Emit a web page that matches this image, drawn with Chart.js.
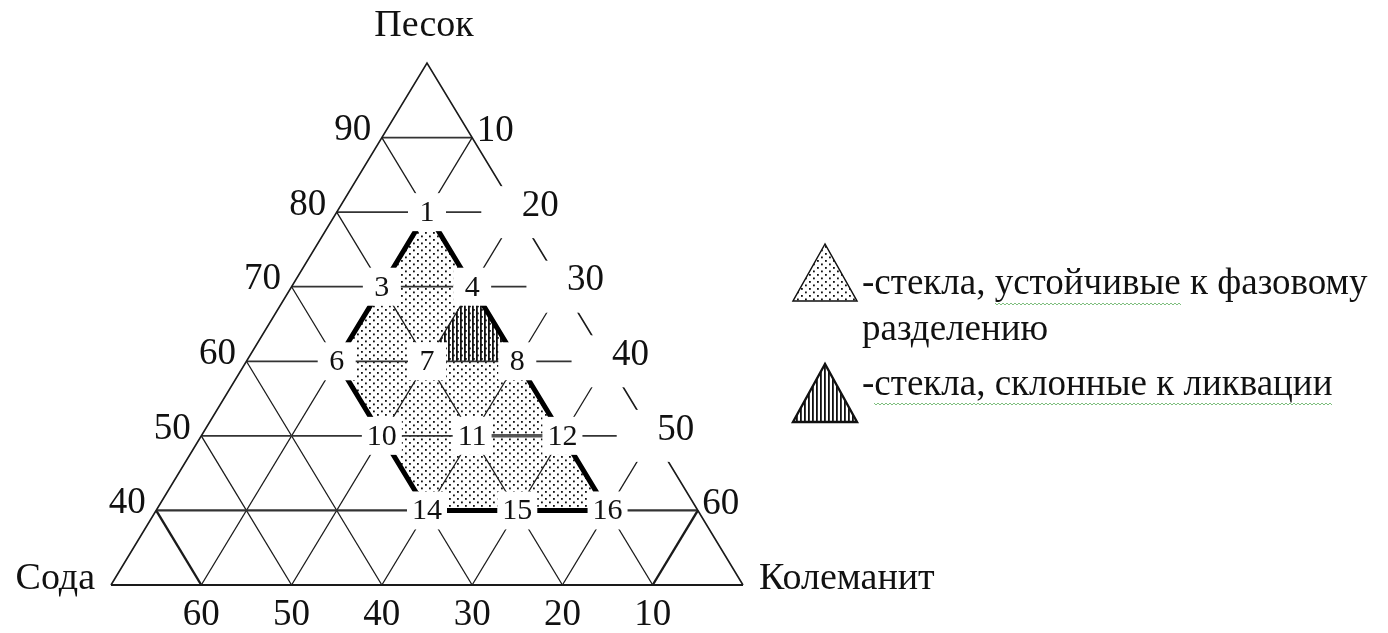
<!DOCTYPE html>
<html lang="ru">
<head>
  <meta charset="UTF-8">
  <title>Треугольник состава: песок — сода — колеманит</title>
  <script src="https://cdn.jsdelivr.net/npm/chart.js"></script>
  <style>
    html, body { margin: 0; padding: 0; background: #fff; }
    #wrap { width: 1388px; height: 633px; }
  </style>
</head>
<body>
  <div id="wrap"><canvas id="diagram" width="1388" height="633"></canvas></div>

  <script>
    // Подписи шкал (мас. %)
    const sandTicks = [90, 80, 70, 60, 50, 40];
    const colemaniteTicks = [10, 20, 30, 40, 50, 60];
    const sodaTicks = [60, 50, 40, 30, 20, 10];

    // Видимая часть треугольника: песок от 30 до 100 %
    const sandMin = 30;
    const gridSteps = [10, 20, 30, 40, 50, 60];
    const sandLevels = [40, 50, 60, 70, 80, 90];

    // Составы стекол: номер, песок, колеманит (сода — остаток)
    const glassIds = ['1', '3', '4', '6', '7', '8', '10', '11', '12', '14', '15', '16'];
    const glassSand = [80, 70, 70, 60, 60, 60, 50, 50, 50, 40, 40, 40];
    const glassColemanite = [10, 10, 20, 10, 20, 30, 20, 30, 40, 30, 40, 50];

    // Области: устойчивые к фазовому разделению и склонные к ликвации
    const stableRegion = ['1', '4', '8', '12', '16', '15', '14', '10', '6', '3'];
    const liquationRegion = ['4', '8', '7'];

    const axisTitles = ['Песок', 'Сода', 'Колеманит'];
    const legendLines = ['-стекла, устойчивые к фазовому', 'разделению', '-стекла, склонные к ликвации'];

    // песок/колеманит -> координаты на плоскости
    const pt = (sand, cole) => ({ x: cole + sand / 2, y: sand });
    const glassPt = id => {
      const i = glassIds.indexOf(id);
      return pt(glassSand[i], glassColemanite[i]);
    };

    function dotPattern() {
      const c = document.createElement('canvas');
      c.width = 8; c.height = 7;
      const g = c.getContext('2d');
      g.fillStyle = '#111';
      g.fillRect(1, 1, 1.8, 1.8);
      g.fillRect(5, 4.5, 1.8, 1.8);
      return g.createPattern(c, 'repeat');
    }
    function hatchPattern() {
      const c = document.createElement('canvas');
      c.width = 4; c.height = 4;
      const g = c.getContext('2d');
      g.fillStyle = '#111';
      g.fillRect(0, 0, 1.8, 4);
      return g.createPattern(c, 'repeat');
    }
    const dots = dotPattern();
    const hatch = hatchPattern();

    const lineSet = (data, width, color, order) => ({
      type: 'line', data, showLine: true, fill: false, borderColor: color,
      borderWidth: width, pointRadius: 0, tension: 0, clip: false, order
    });

    const datasets = [];

    // рамка треугольника
    datasets.push(lineSet([pt(sandMin, 0), pt(100, 0), pt(sandMin, 100 - sandMin)], 1.6, '#1a1a1a', 3));
    datasets.push(lineSet([pt(sandMin, 0), pt(sandMin, 100 - sandMin)], 2.2, '#1a1a1a', 3));
    // горизонтали песка
    sandLevels.forEach(s => datasets.push(lineSet([pt(s, 0), pt(s, 100 - s)], s === 40 ? 2.2 : 1.8, '#333', 3)));
    // линии постоянного колеманита
    gridSteps.forEach(c => datasets.push(lineSet([pt(sandMin, c), pt(100 - c, c)], c === 60 ? 2.4 : 1.3, '#1a1a1a', 3)));
    // линии постоянной соды
    gridSteps.forEach(n => datasets.push(lineSet([pt(sandMin, 100 - sandMin - n), pt(100 - n, 0)], n === 60 ? 2.4 : 1.3, '#1a1a1a', 3)));
    // усиленный отрезок 11–12
    datasets.push(lineSet([glassPt('11'), glassPt('12')], 3.5, '#555', 2));

    // область склонных к ликвации стекол
    const liq = liquationRegion.map(glassPt);
    datasets.push({
      type: 'line', data: [...liq, liq[0]], showLine: true, fill: 'shape',
      backgroundColor: hatch, borderWidth: 0, pointRadius: 0, clip: false, order: 4
    });
    // область устойчивых стекол (заливка)
    const st = stableRegion.map(glassPt);
    datasets.push({
      type: 'line', data: [...st, st[0]], showLine: true, fill: 'shape',
      backgroundColor: dots, borderWidth: 0, pointRadius: 0, clip: false, order: 5
    });
    // жирная граница области
    datasets.push(lineSet([...st, st[0]], 5, '#000', 1));

    const serif = '"Liberation Serif", "Times New Roman", serif';

    const labelsPlugin = {
      id: 'ternaryLabels',
      afterDatasetsDraw(chart) {
        const { ctx, scales: { x, y } } = chart;
        const px = p => ({ x: x.getPixelForValue(p.x), y: y.getPixelForValue(p.y) });
        ctx.save();
        ctx.textBaseline = 'middle';
        ctx.textAlign = 'center';

        // номера составов на белых подложках
        ctx.font = '30px ' + serif;
        glassIds.forEach(id => {
          const p = px(glassPt(id));
          const w = Math.max(ctx.measureText(id).width + 10, 38);
          ctx.fillStyle = '#fff';
          ctx.fillRect(p.x - w / 2, p.y - 19, w, 38);
          ctx.fillStyle = '#111';
          ctx.fillText(id, p.x, p.y + 1);
        });

        ctx.font = '37px ' + serif;
        // песок — левая сторона
        sandTicks.forEach(s => {
          const p = px(pt(s, 0));
          ctx.fillStyle = '#111';
          ctx.fillText(String(s), p.x - 29, p.y - 7);
        });
        // колеманит — правая сторона (подписи 20–50 на подложках)
        colemaniteTicks.forEach(c => {
          const p = px(pt(100 - c, c));
          if (c > 10 && c < 60) {
            ctx.fillStyle = '#fff';
            ctx.fillRect(p.x - 36, p.y - 26, 114, 52);
          }
          ctx.fillStyle = '#111';
          ctx.fillText(String(c), p.x + 23, p.y - 6);
        });
        // сода — нижняя сторона
        sodaTicks.forEach(n => {
          const p = px(pt(sandMin, 100 - sandMin - n));
          ctx.fillStyle = '#111';
          ctx.fillText(String(n), p.x, p.y + 30);
        });

        // названия компонентов
        ctx.font = '38px ' + serif;
        const top = px(pt(100, 0));
        ctx.fillText(axisTitles[0], top.x - 3, top.y - 37);
        const bl = px(pt(sandMin, 0));
        ctx.textAlign = 'right';
        ctx.fillText(axisTitles[1], bl.x - 16, bl.y - 6);
        const br = px(pt(sandMin, 100 - sandMin));
        ctx.textAlign = 'left';
        ctx.fillText(axisTitles[2], br.x + 16, br.y - 6);

        // легенда
        const tri = (ax, ay, w, h, fill, lw) => {
          ctx.beginPath();
          ctx.moveTo(ax, ay);
          ctx.lineTo(ax - w / 2, ay + h);
          ctx.lineTo(ax + w / 2, ay + h);
          ctx.closePath();
          ctx.fillStyle = fill;
          ctx.fill();
          ctx.lineWidth = lw;
          ctx.strokeStyle = '#111';
          ctx.stroke();
        };
        tri(825, 244, 64, 57, dots, 1.5);
        tri(825, 364, 64, 58, hatch, 2.4);

        ctx.font = '37px ' + serif;
        ctx.fillStyle = '#111';
        ctx.textAlign = 'left';
        const lx = 862;
        ctx.fillText(legendLines[0], lx, 284);
        ctx.fillText(legendLines[1], lx, 330);
        ctx.fillText(legendLines[2], lx, 385);

        // волнистые подчеркивания проверки орфографии
        const squiggle = (x0, x1, yy) => {
          ctx.beginPath();
          for (let xx = x0; xx <= x1; xx += 2) {
            const dy = (Math.floor((xx - x0) / 2) % 2) ? 1 : -1;
            if (xx === x0) ctx.moveTo(xx, yy + dy); else ctx.lineTo(xx, yy + dy);
          }
          ctx.strokeStyle = '#7fbf7f';
          ctx.lineWidth = 1;
          ctx.stroke();
        };
        const word = 'устойчивые';
        const w0 = lx + ctx.measureText(legendLines[0].slice(0, legendLines[0].indexOf(word))).width;
        squiggle(Math.round(w0), Math.round(w0 + ctx.measureText(word).width), 304);
        const w1 = lx + ctx.measureText('-').width;
        squiggle(Math.round(w1), Math.round(lx + ctx.measureText(legendLines[2]).width), 404);
        ctx.restore();
      }
    };

    new Chart(document.getElementById('diagram'), {
      type: 'scatter',
      data: { datasets },
      options: {
        responsive: false,
        animation: false,
        events: [],
        layout: { padding: { left: 111, right: 645, top: 63, bottom: 48 } },
        scales: {
          x: { type: 'linear', min: 15, max: 85, display: false },
          y: { type: 'linear', min: sandMin, max: 100, display: false }
        },
        plugins: { legend: { display: false }, tooltip: { enabled: false } }
      },
      plugins: [labelsPlugin]
    });
  </script>
</body>
</html>
